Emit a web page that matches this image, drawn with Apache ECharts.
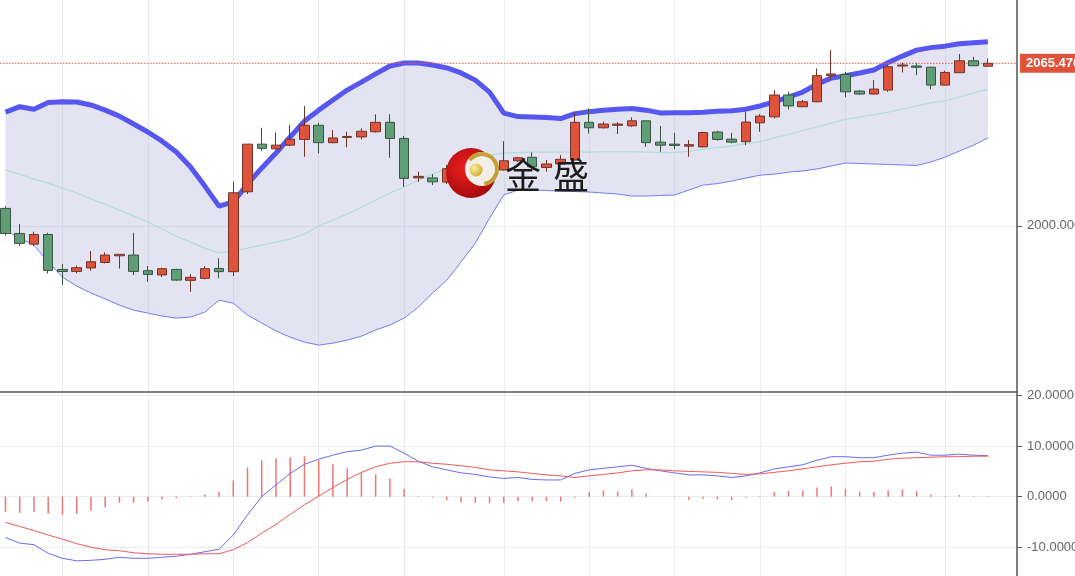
<!DOCTYPE html>
<html><head><meta charset="utf-8">
<script src="https://cdn.jsdelivr.net/npm/echarts@6/dist/echarts.min.js"></script>
<style>html,body{margin:0;padding:0;background:#fff}#c{width:1075px;height:576px}</style>
</head><body><div id="c"></div>
<script>
// ---- candle data (OHLC) ----
const opens = [2007.0,1996.9,1992.6,1996.5,1982.4,1981.6,1983.0,1985.2,1987.9,1988.2,
 1981.9,1980.2,1982.4,1978.0,1978.8,1982.8,1981.5,2013.7,2032.9,2031.0,
 2032.5,2034.8,2040.5,2033.5,2035.6,2035.8,2037.9,2041.7,2035.2,2019.3,
 2019.3,2017.6,2022.6,2024.0,2021.9,2022.5,2026.2,2027.6,2023.5,2024.9,
 2026.5,2041.7,2039.5,2040.5,2040.3,2042.3,2033.7,2032.9,2032.1,2031.8,
 2037.8,2034.9,2033.9,2041.5,2043.9,2052.7,2048.0,2050.0,2060.5,2061.0,
 2054.3,2053.1,2054.7,2064.4,2064.4,2063.9,2056.7,2061.7,2066.5,2064.3];
const closes = [1996.9,1992.9,1996.5,1982.0,1981.6,1983.1,1985.5,1988.2,1988.5,1981.6,
 1980.4,1982.7,1978.1,1979.2,1982.7,1981.5,2013.3,2032.9,2031.2,2032.5,
 2034.9,2040.5,2033.5,2035.4,2036.0,2038.1,2041.7,2035.2,2019.1,2019.9,
 2017.7,2023.0,2023.4,2022.0,2022.5,2026.2,2027.4,2023.8,2024.9,2026.8,
 2041.7,2039.5,2041.0,2041.0,2042.3,2033.5,2032.5,2032.4,2032.7,2037.6,
 2034.8,2033.7,2041.8,2044.2,2052.7,2048.3,2050.0,2060.5,2061.2,2054.0,
 2053.1,2055.1,2064.1,2064.8,2063.9,2056.7,2061.8,2066.5,2064.5,2065.47];
const lows = [1996.0,1991.8,1991.8,1980.8,1976.1,1980.8,1981.9,1984.8,1982.8,1980.1,
 1977.4,1979.4,1977.8,1973.4,1978.4,1978.8,1979.7,2012.8,2030.2,2030.8,
 2032.1,2027.8,2029.2,2033.2,2031.6,2034.8,2037.6,2027.4,2015.7,2017.7,
 2016.4,2016.8,2021.5,2021.0,2021.2,2022.3,2025.7,2023.3,2021.8,2024.5,
 2026.2,2037.2,2039.2,2037.0,2039.9,2031.8,2029.8,2030.8,2027.8,2031.7,
 2034.3,2033.2,2032.5,2037.9,2043.3,2046.9,2047.8,2049.8,2058.7,2051.8,
 2052.7,2052.9,2054.0,2061.8,2060.7,2055.0,2056.6,2061.6,2064.4,2064.2];
const highs = [2007.9,2000.7,1997.6,1997.2,1984.6,1983.9,1989.8,1989.3,1988.5,1997.2,
 1983.8,1983.1,1982.7,1980.5,1983.8,1986.9,2017.7,2032.9,2039.5,2037.6,
 2040.6,2048.3,2041.5,2038.6,2037.9,2039.3,2044.9,2045.0,2036.2,2021.8,
 2020.8,2024.5,2025.0,2025.5,2027.4,2034.1,2027.8,2029.6,2026.5,2028.5,
 2045.3,2047.3,2041.9,2041.7,2043.7,2042.3,2040.2,2037.5,2034.5,2037.9,
 2038.3,2037.5,2046.0,2045.0,2054.7,2054.0,2050.7,2063.4,2070.8,2062.1,
 2054.7,2058.7,2064.8,2065.7,2065.5,2064.1,2062.5,2069.2,2068.1,2067.5];

// ---- Bollinger bands ----
const upper = [2045.8,2048.0,2047.0,2049.7,2050.0,2049.9,2048.7,2046.6,2044.2,2041.0,
 2037.8,2034.1,2029.7,2023.7,2016.0,2007.9,2009.6,2016.8,2023.3,2029.3,
 2035.8,2042.2,2046.6,2050.7,2054.7,2057.9,2061.2,2064.4,2065.6,2065.6,
 2064.8,2063.6,2061.6,2058.7,2053.9,2045.4,2044.0,2043.8,2043.6,2043.2,
 2045.2,2046.0,2046.6,2047.0,2047.3,2046.6,2045.5,2045.6,2045.6,2045.8,
 2046.2,2046.4,2047.0,2048.3,2049.9,2051.9,2053.9,2057.1,2059.5,2060.5,
 2061.6,2062.8,2065.8,2068.4,2070.8,2071.8,2072.4,2073.4,2073.8,2074.2];
const mid = [2022.5,2020.8,2018.8,2017.2,2015.2,2013.2,2010.8,2008.7,2006.3,2003.9,
 2001.5,1998.7,1995.8,1993.4,1991.0,1989.0,1989.8,1991.0,1992.2,1993.4,
 1994.6,1996.7,1999.9,2002.3,2004.7,2007.5,2010.4,2013.2,2015.6,2018.4,
 2020.8,2023.3,2025.3,2026.9,2028.5,2029.3,2029.5,2029.7,2029.7,2029.7,
 2029.7,2029.7,2029.9,2029.9,2029.9,2029.7,2029.5,2029.5,2030.1,2030.9,
 2031.5,2032.1,2033.1,2033.9,2035.4,2036.8,2038.4,2039.8,2041.4,2043.0,
 2043.8,2044.8,2045.8,2047.0,2048.3,2049.5,2050.3,2051.9,2053.5,2055.1];
const lower = [1998.3,1995.0,1992.2,1985.4,1979.3,1975.7,1972.9,1970.5,1968.0,1966.0,
 1964.8,1963.6,1962.8,1963.2,1965.2,1970.0,1968.8,1964.0,1960.8,1957.6,
 1955.1,1953.1,1951.9,1952.7,1953.9,1955.5,1958.0,1960.0,1962.8,1967.2,
 1972.9,1978.1,1985.4,1993.0,2003.1,2012.4,2014.4,2014.4,2014.2,2014.0,
 2013.8,2013.6,2013.2,2012.8,2012.0,2012.0,2012.2,2012.4,2014.4,2016.4,
 2017.0,2018.0,2019.2,2020.4,2020.8,2021.6,2022.1,2022.9,2024.1,2025.3,
 2025.1,2024.9,2024.7,2024.5,2024.3,2025.7,2027.7,2030.1,2032.5,2035.4];

// ---- MACD ----
const macdHist = [-3.0,-3.2,-3.0,-3.4,-3.6,-3.4,-2.8,-2.1,-1.2,-1.2,
 -1.0,-0.5,-0.3,-0.1,0.4,0.9,3.2,5.8,7.2,7.6,
 7.8,8.0,7.2,6.4,5.6,4.8,4.4,3.6,1.5,0.1,
 -0.2,-0.7,-1.1,-1.2,-1.3,-1.2,-0.9,-0.9,-0.9,-1.0,
 -0.2,0.9,1.2,1.0,1.4,0.6,0.0,-0.1,-0.6,-0.4,
 -0.5,-0.7,-0.2,0.1,0.9,1.1,1.2,1.8,2.0,1.6,
 1.0,0.9,1.2,1.4,1.1,0.4,0.1,0.3,0.1,0.1];
const macdDif = [-8.1,-9.2,-9.5,-11.2,-12.2,-12.7,-12.6,-12.4,-12.0,-12.2,
 -12.2,-12.0,-11.8,-11.4,-10.9,-10.4,-7.6,-3.6,0.0,2.3,
 4.6,6.4,7.4,8.2,8.9,9.2,10.0,10.0,8.6,7.0,
 5.9,5.3,4.7,4.4,3.9,3.6,3.8,3.4,3.3,3.3,
 4.6,5.3,5.6,5.9,6.2,5.6,5.1,4.7,4.3,4.3,
 4.1,3.8,4.1,4.7,5.5,5.9,6.3,7.2,7.9,7.9,
 7.7,7.7,8.2,8.6,8.8,8.2,8.2,8.4,8.2,8.1];
const macdDea = [-5.1,-5.9,-6.7,-7.6,-8.4,-9.3,-10.0,-10.5,-10.7,-11.1,
 -11.3,-11.4,-11.4,-11.4,-11.3,-11.3,-10.5,-9.1,-7.2,-5.5,
 -3.5,-1.6,0.1,1.8,3.4,4.8,5.9,6.6,6.9,6.9,
 6.6,6.4,6.1,5.8,5.3,5.1,4.9,4.6,4.3,4.1,
 3.8,4.1,4.4,4.7,5.1,5.3,5.3,5.1,5.0,4.9,
 4.8,4.6,4.4,4.5,4.8,5.1,5.5,5.9,6.3,6.6,
 6.9,7.0,7.4,7.6,7.7,7.8,7.9,7.9,8.0,8.0];

// ---- axis ticks / markers ----
const dayStarts = [4,10,16,22,28,35,41,47,53,59,66];   // vertical grid lines (bar index)
const priceTicks = [2000];
const macdTicks = [-10, 0, 10, 20];
const lastPrice = 2065.47;

const idx = opens.map((_, i) => i);
const pairs = arr => arr.map((v, i) => [i, v]);
const candleData = idx.map(i => [i, opens[i], closes[i], lows[i], highs[i]]);
const bandData = idx.map(i => [i, lower[i], upper[i]]);

const FONT = 'Liberation Sans, Arial, sans-serif';
const gridLineColor = '#e9edf2';

const xAxisBase = (gi) => ({
  type: 'value', gridIndex: gi, min: -0.386, max: 71.05,
  axisLabel: { show: false },
  axisTick: { show: false, customValues: dayStarts },
  splitLine: { show: true, lineStyle: { color: gridLineColor, width: 1 } }
});

// Band fill polygon drawn through the axis scales (api.coord)
function renderBand(params, api) {
  if (params.dataIndex !== 0) return null;
  const n = bandData.length;
  const pts = [];
  for (let i = 0; i < n; i++) pts.push(api.coord([bandData[i][0], bandData[i][2]]));
  for (let i = n - 1; i >= 0; i--) pts.push(api.coord([bandData[i][0], bandData[i][1]]));
  return { type: 'polygon', shape: { points: pts }, style: { fill: 'rgba(185,185,222,0.40)' } };
}

// Last-price dotted line + price tag, positioned by the price scale
function renderPriceLine(params, api) {
  const cs = params.coordSys;
  const v = api.value(1);
  const y = api.coord([api.value(0), v])[1];
  return {
    type: 'group',
    children: [
      { type: 'line', shape: { x1: cs.x, y1: y, x2: cs.x + cs.width, y2: y },
        style: { stroke: '#ec5a48', lineWidth: 1, lineDash: [1.5, 1.5] } },
      { type: 'text', z2: 10,
        style: { x: cs.x + cs.width + 3, y: y, text: v.toFixed(3), fill: '#fff',
          font: 'bold 13px ' + FONT, verticalAlign: 'middle', align: 'left',
          backgroundColor: '#e0533b', padding: [3, 6, 3, 6] } }
    ]
  };
}

const chart = echarts.init(document.getElementById('c'));
chart.setOption({
  animation: false,
  backgroundColor: '#ffffff',
  textStyle: { fontFamily: FONT },
  grid: [
    { left: 0, right: 58, top: 0, height: 392, containLabel: false, outerBoundsMode: 'none' },
    { left: 0, right: 58, top: 392, height: 184, containLabel: false, outerBoundsMode: 'none' }
  ],
  xAxis: [
    Object.assign(xAxisBase(0), { axisLine: { show: true, onZero: false, lineStyle: { color: '#555', width: 1.5 } } }),
    Object.assign(xAxisBase(1), { axisLine: { show: false, onZero: false } })
  ],
  yAxis: [
    {
      type: 'value', gridIndex: 0, position: 'right', min: 1933, max: 2091,
      axisLine: { show: true, onZero: false, lineStyle: { color: '#555', width: 1.5 } },
      axisTick: { show: true, length: 5, customValues: priceTicks, lineStyle: { color: '#555' } },
      axisLabel: { customValues: priceTicks, formatter: v => v.toFixed(3), color: '#666', fontSize: 13, margin: 10, fontFamily: FONT },
      splitLine: { show: true, lineStyle: { color: gridLineColor } }
    },
    {
      type: 'value', gridIndex: 1, position: 'right', min: -15.7, max: 20.7,
      axisLine: { show: true, onZero: false, lineStyle: { color: '#555', width: 1.5 } },
      axisTick: { show: true, length: 5, customValues: macdTicks, lineStyle: { color: '#555' } },
      axisLabel: { customValues: macdTicks, formatter: v => v.toFixed(4), color: '#666', fontSize: 13, margin: 10, fontFamily: FONT },
      splitLine: { show: true, lineStyle: { color: gridLineColor } }
    }
  ],
  series: [
    { name: 'BOLL-FILL', type: 'custom', data: bandData, renderItem: renderBand, silent: true, z: 1,
      encode: { x: 0, y: [1, 2] } },
    { name: 'BOLL-LOWER', type: 'line', data: pairs(lower), symbol: 'none',
      lineStyle: { color: '#7a7af0', width: 1 }, z: 2 },
    { name: 'BOLL-MID', type: 'line', data: pairs(mid), symbol: 'none',
      lineStyle: { color: '#aee0d5', width: 1.2 }, z: 2 },
    { name: 'BOLL-UPPER', type: 'line', data: pairs(upper), symbol: 'none',
      lineStyle: { color: '#5656f0', width: 5 }, z: 2 },
    { name: 'LAST', type: 'custom', data: [[idx.length - 1, lastPrice]], renderItem: renderPriceLine,
      silent: true, clip: false, z: 3, encode: { x: 0, y: 1 } },
    { name: 'K', type: 'candlestick', data: candleData, encode: { x: 0, y: [1, 2, 3, 4] },
      barWidth: 10, z: 4,
      itemStyle: { color: '#e0533b', color0: '#5f9e77', borderColor: '#6e342a', borderColor0: '#37543f', borderWidth: 1 }
    },
    { name: 'MACD', type: 'bar', xAxisIndex: 1, yAxisIndex: 1, data: pairs(macdHist), barWidth: 1.5,
      itemStyle: { color: '#f07575' } },
    { name: 'DIF', type: 'line', xAxisIndex: 1, yAxisIndex: 1, data: pairs(macdDif), symbol: 'none',
      lineStyle: { color: '#6b6bf0', width: 1 } },
    { name: 'DEA', type: 'line', xAxisIndex: 1, yAxisIndex: 1, data: pairs(macdDea), symbol: 'none',
      lineStyle: { color: '#f05a5a', width: 1 } }
  ],
  graphic: [
    { type: 'circle', shape: { cx: 471, cy: 173, r: 25 }, z: 100,
      style: { fill: new echarts.graphic.RadialGradient(0.4, 0.4, 0.7, [
        { offset: 0, color: '#f02020' }, { offset: 1, color: '#9a0808' }]) } },
    { type: 'circle', shape: { cx: 482, cy: 169, r: 17 }, z: 101,
      style: { fill: '#f3efe8' } },
    { type: 'arc', shape: { cx: 482, cy: 169, r: 15, startAngle: -Math.PI * 0.8, endAngle: Math.PI * 0.45 }, z: 102,
      style: { stroke: '#c4a035', lineWidth: 4, fill: null } },
    { type: 'circle', shape: { cx: 476, cy: 170, r: 6.5 }, z: 103,
      style: { fill: new echarts.graphic.RadialGradient(0.35, 0.35, 0.8, [
        { offset: 0, color: '#fff3a0' }, { offset: 1, color: '#c9a020' }]) } },
    { type: 'text', x: 505, y: 175, z: 102,
      style: { text: '金', font: '36px "Noto Sans CJK SC"', fill: '#1c1c1c', verticalAlign: 'middle' } },
    { type: 'text', x: 553, y: 175, z: 102,
      style: { text: '盛', font: '36px "Noto Sans CJK SC"', fill: '#1c1c1c', verticalAlign: 'middle' } }
  ]
});
</script>
</body></html>
